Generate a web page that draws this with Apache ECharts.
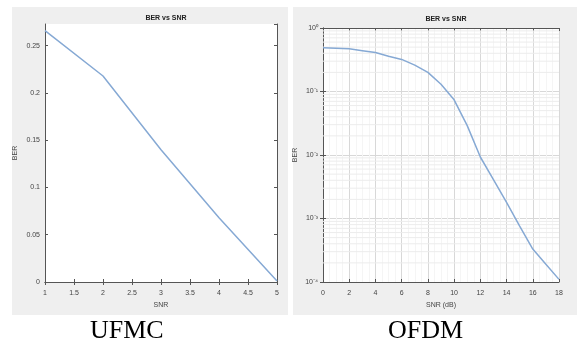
<!DOCTYPE html>
<html>
<head>
<meta charset="utf-8">
<script src="https://cdn.jsdelivr.net/npm/echarts@6/dist/echarts.min.js"></script>
<style>
  html, body { margin: 0; padding: 0; background: #fff; }
  #chart { width: 577px; height: 342px; }
</style>
</head>
<body>
<div id="chart"></div>
<script>
// UFMC: BER vs SNR (linear)
const ufmcSnr = [1, 2, 3, 4, 5]
const ufmcBer = [0.266, 0.218, 0.14, 0.068, 0.001]

// OFDM: BER vs SNR (dB), log scale
const ofdmSnr = [0, 1, 2, 3, 4, 5, 6, 7, 8, 9, 10, 11, 12, 13, 14, 15, 16, 17, 18]
const ofdmBer = [0.49, 0.48, 0.47, 0.44, 0.41, 0.36, 0.32, 0.26, 0.20, 0.13, 0.074,
  0.029, 0.0093, 0.0041, 0.0018, 0.00076, 0.00033, 0.00019, 0.00011]

const panelNames = ['UFMC', 'OFDM']
const titleText = 'BER vs SNR'

const chart = echarts.init(document.getElementById('chart'))

const axisCol = '#555'
const labelStyle = { fontSize: 7, color: '#444', fontFamily: 'Liberation Sans' }
const lineColor = '#86a9d4'

// minor grid levels inside each decade of the log axis (2..9 x 10^e)
const minorLog = []
for (let e = -4; e < 0; e++) {
  for (let m = 2; m <= 9; m++) minorLog.push(m * Math.pow(10, e))
}

const sup = { '0': '⁰', '1': '¹', '2': '²', '3': '³', '4': '⁴', '-': '⁻' }
const logFmt = v => '10' + String(Math.round(Math.log10(v))).split('').map(c => sup[c]).join('')

const boxAxis = (extra) => Object.assign({
  axisLine: { show: true, lineStyle: { color: axisCol, width: 1 } },
  axisTick: { show: true, inside: true, length: 3, lineStyle: { color: axisCol } },
  axisLabel: { show: false },
  splitLine: { show: false }
}, extra)

const option = {
  animation: false,
  backgroundColor: '#fff',
  graphic: [
    { type: 'rect', z: -10, shape: { x: 12, y: 7, width: 276, height: 308 }, style: { fill: '#efefef' } },
    { type: 'rect', z: -10, shape: { x: 293, y: 7, width: 284, height: 308 }, style: { fill: '#efefef' } },
    { type: 'text', left: 120 - 30, top: 318, style: { text: panelNames[0], font: '26px "Liberation Serif"', fill: '#000' } },
    { type: 'text', left: 419 - 31, top: 318, style: { text: panelNames[1], font: '26px "Liberation Serif"', fill: '#000' } }
  ],
  title: [
    { text: titleText, left: 161, top: 10, textAlign: 'center', textStyle: { fontSize: 7, fontWeight: 'bold', color: '#222' } },
    { text: titleText, left: 441, top: 11, textAlign: 'center', textStyle: { fontSize: 7, fontWeight: 'bold', color: '#222' } }
  ],
  grid: [
    { left: 45, top: 24, width: 232, height: 258, show: true, backgroundColor: '#fff', borderWidth: 0 },
    { left: 323, top: 28, width: 236, height: 254, show: true, backgroundColor: '#fff', borderWidth: 0 }
  ],
  xAxis: [
    boxAxis({
      gridIndex: 0, type: 'value', min: 1, max: 5, interval: 0.5, position: 'bottom',
      name: 'SNR', nameLocation: 'middle', nameGap: 20, nameTextStyle: labelStyle,
      axisLabel: Object.assign({ show: true, margin: 8 }, labelStyle)
    }),
    boxAxis({ gridIndex: 0, type: 'value', min: 1, max: 5, interval: 0.5, position: 'top' }),
    boxAxis({
      gridIndex: 1, type: 'value', min: 0, max: 18, interval: 2, position: 'bottom',
      name: 'SNR (dB)', nameLocation: 'middle', nameGap: 20, nameTextStyle: labelStyle,
      axisLabel: Object.assign({ show: true, margin: 8 }, labelStyle),
      splitLine: { show: true, lineStyle: { color: '#d8d8d8', width: 1 } },
      minorTick: { show: false, splitNumber: 4 },
      minorSplitLine: { show: true, lineStyle: { color: '#f5f5f5', width: 1 } }
    }),
    boxAxis({ gridIndex: 1, type: 'value', min: 0, max: 18, interval: 2, position: 'top' })
  ],
  yAxis: [
    boxAxis({
      gridIndex: 0, type: 'value', min: 0, max: 0.273, interval: 0.05, position: 'left',
      name: 'BER', nameLocation: 'middle', nameGap: 26, nameTextStyle: labelStyle,
      axisLabel: Object.assign({ show: true, margin: 5, showMaxLabel: false }, labelStyle)
    }),
    boxAxis({ gridIndex: 0, type: 'value', min: 0, max: 0.273, interval: 0.05, position: 'right' }),
    boxAxis({
      gridIndex: 1, type: 'log', logBase: 10, min: 0.0001, max: 1, position: 'left',
      name: 'BER', nameLocation: 'middle', nameGap: 24, nameTextStyle: labelStyle,
      axisLabel: Object.assign({ show: true, margin: 5, formatter: logFmt }, labelStyle),
      splitLine: { show: true, lineStyle: { color: '#d8d8d8', width: 1 } }
    }),
    boxAxis({ gridIndex: 1, type: 'log', logBase: 10, min: 0.0001, max: 1, position: 'right' })
  ],
  series: [
    {
      // faint minor horizontal grid on the log plot
      type: 'custom', xAxisIndex: 2, yAxisIndex: 2, silent: true, z: 1,
      data: minorLog.map(v => [0, v]),
      renderItem: (params, api) => {
        const a = api.coord([0, api.value(1)])
        const b = api.coord([18, api.value(1)])
        return {
          type: 'line',
          shape: { x1: a[0], y1: a[1], x2: b[0], y2: b[1] },
          style: { stroke: '#ececec', lineWidth: 1 }
        }
      }
    },
    {
      type: 'line', xAxisIndex: 0, yAxisIndex: 0, z: 3,
      data: ufmcSnr.map((x, i) => [x, ufmcBer[i]]),
      showSymbol: false, lineStyle: { color: lineColor, width: 1.5 }
    },
    {
      type: 'line', xAxisIndex: 2, yAxisIndex: 2, z: 3,
      data: ofdmSnr.map((x, i) => [x, ofdmBer[i]]),
      showSymbol: false, lineStyle: { color: lineColor, width: 1.5 }
    }
  ]
}

chart.setOption(option)
</script>
</body>
</html>
